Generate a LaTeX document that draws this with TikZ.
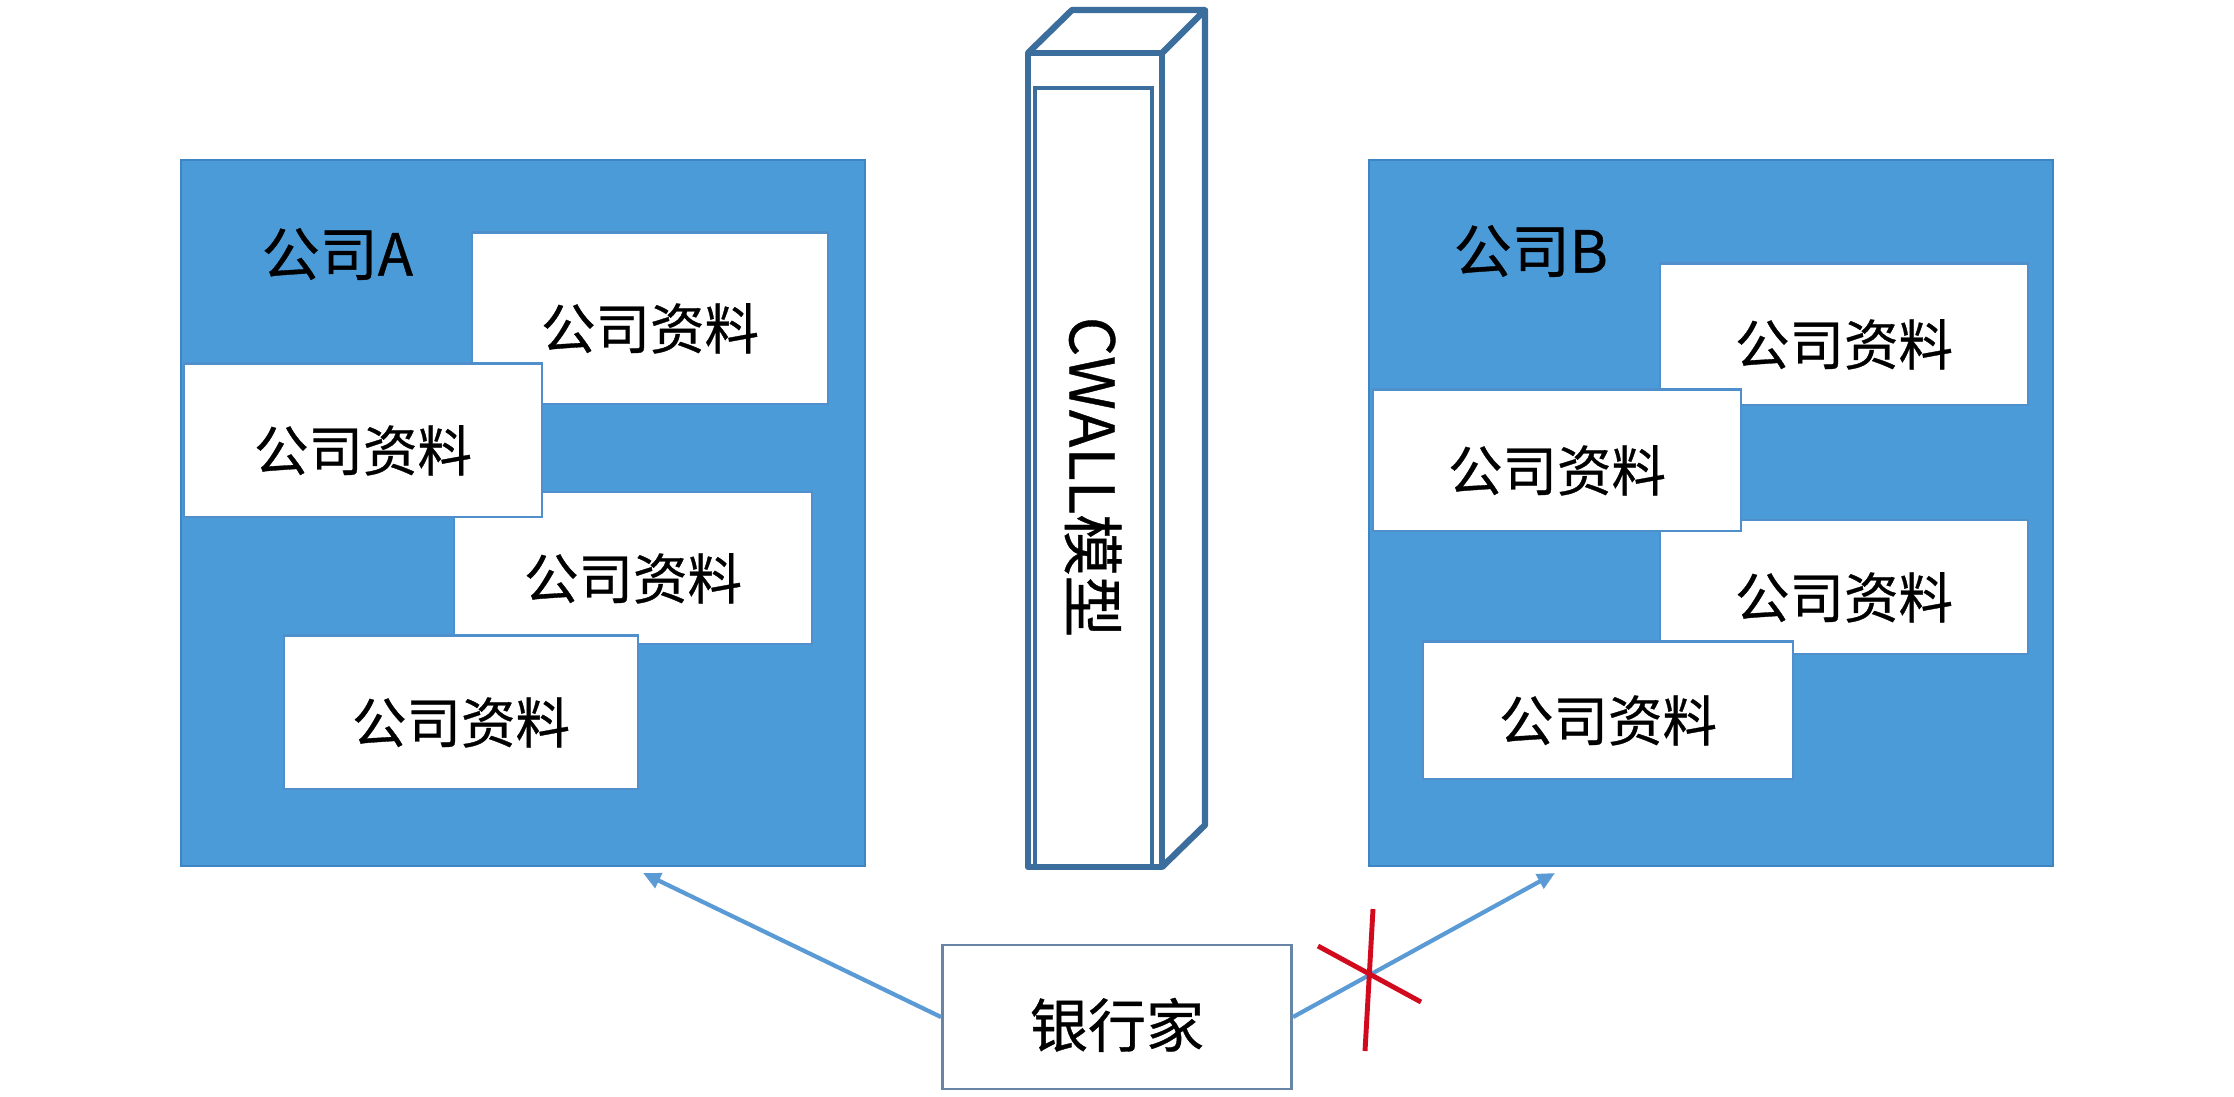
\documentclass[tikz,border=0pt]{standalone}
\usepackage{fontspec}
\setmainfont{Noto Sans CJK SC}[RawFeature={embolden=0.6}]
\usetikzlibrary{arrows.meta}

\definecolor{compfill}{RGB}{74,155,215}
\definecolor{compline}{RGB}{62,134,195}
\definecolor{docline}{RGB}{79,143,203}
\definecolor{wallline}{RGB}{59,110,156}
\definecolor{bankline}{RGB}{104,133,166}
\definecolor{linkblue}{RGB}{91,155,213}
\definecolor{cutred}{RGB}{210,10,30}

\begin{document}
\begin{tikzpicture}[x=0.01cm, y=-0.01cm]
  \fill [white] (0, 0) rectangle (2234, 1096);  % Feste Bildgroesse.
  \tikzstyle{company}=[rectangle, draw=compline, line width=0.6pt, fill=compfill, minimum width=6.84cm, minimum height=7.06cm, inner sep=0pt]
  \tikzstyle{title}=[anchor=west, inner sep=0pt, font=\fontsize{16.5}{18}\selectfont]
  \tikzstyle{doc}=[rectangle, draw=docline, line width=0.6pt, fill=white, inner sep=0pt, text height=0.62cm, text depth=0pt, font=\fontsize{15.5}{17}\selectfont]
  \tikzstyle{wall}=[draw=wallline, line width=1.8pt, line join=round]
  \tikzstyle{bank}=[rectangle, draw=bankline, line width=0.8pt, fill=white, minimum width=3.49cm, minimum height=1.44cm, inner sep=0pt, text height=0.6cm, text depth=0pt, font=\fontsize{16.5}{18}\selectfont]
  \tikzstyle{link}=[draw=linkblue, line width=1.2pt, -{Triangle[length=5pt, width=4.5pt]}]
  \tikzstyle{cut}=[draw=cutred, line width=1.4pt]

  \node[company] (A) at (523, 513) {};
  \node[title] (la) at (261, 254) {公司A};
  \node[doc, minimum width=3.55cm, minimum height=1.71cm] (a1) at (650, 318) {公司资料};
  \node[doc, minimum width=3.57cm, minimum height=1.52cm] (a3) at (633, 568) {公司资料};
  \node[doc, minimum width=3.54cm, minimum height=1.53cm] (a4) at (461, 712) {公司资料};
  \node[doc, minimum width=3.57cm, minimum height=1.53cm] (a2) at (363, 440) {公司资料};

  \node[company] (B) at (1711, 513) {};
  \node[title] (lb) at (1453, 251) {公司B};
  \node[doc, minimum width=3.67cm, minimum height=1.41cm] (b1) at (1844, 334) {公司资料};
  \node[doc, minimum width=3.67cm, minimum height=1.34cm] (b3) at (1844, 587) {公司资料};
  \node[doc, minimum width=3.69cm, minimum height=1.37cm] (b4) at (1608, 710) {公司资料};
  \node[doc, minimum width=3.68cm, minimum height=1.41cm] (b2) at (1557, 460) {公司资料};

  \draw[wall] (1028, 53) rectangle (1162, 867);
  \draw[wall] (1028, 53) -- (1072, 10) -- (1205, 10) -- (1162, 53);
  \draw[wall] (1205, 10) -- (1205, 825) -- (1162, 867);
  \draw[draw=wallline, line width=0.9pt] (1035, 88) rectangle (1152, 867);
  \node[rotate=-90, inner sep=0pt, font=\fontsize{17.5}{19}\selectfont] (wall) at (1093, 477) {CWALL模型};

  \node[bank] (bank) at (1117, 1017) {银行家};
  \coordinate (toA) at (643, 873);
  \coordinate (toB) at (1555, 873);
  \path[link] (bank.west) -- (toA);
  \path[link] (bank.east) -- (toB);

  \draw[cut] (1373, 909) -- (1365, 1051);
  \draw[cut] (1318, 946) -- (1421, 1002);
\end{tikzpicture}
\end{document}
